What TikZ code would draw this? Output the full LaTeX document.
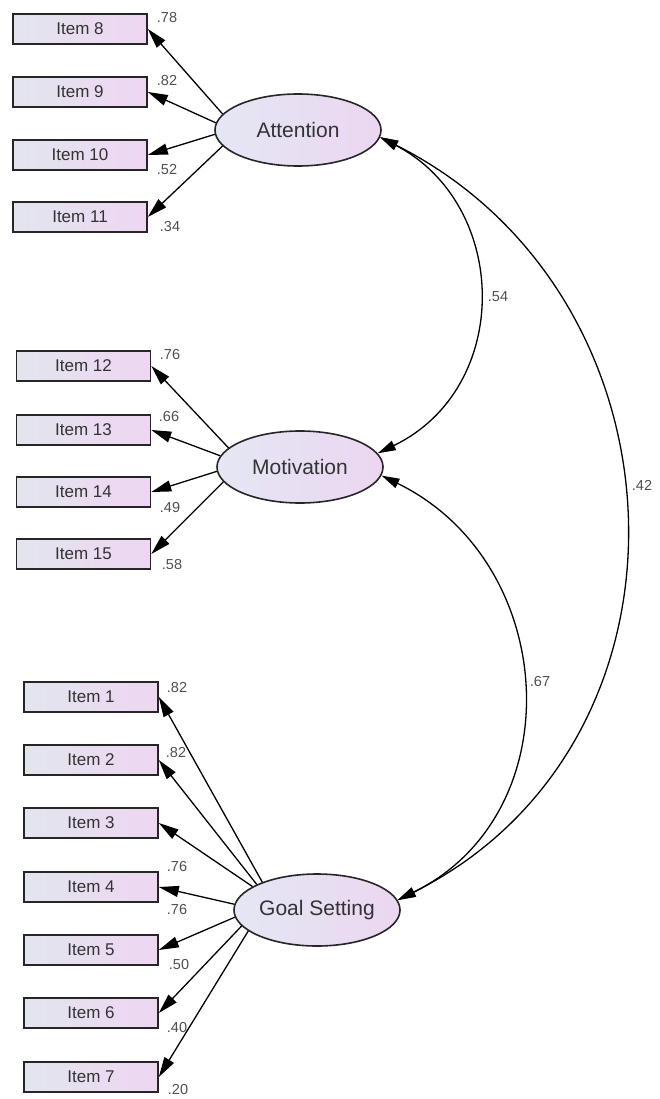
\documentclass[tikz,border=0pt]{standalone}
\usepackage{fontspec}
\setmainfont{Liberation Sans}
\usetikzlibrary{shapes.geometric,arrows.meta}
\definecolor{boxL}{HTML}{E2E5EE}
\definecolor{boxR}{HTML}{EED6F2}
\definecolor{ellL}{HTML}{E4E7F4}
\definecolor{ellR}{HTML}{ECD6F1}
\definecolor{txt}{HTML}{333333}
\definecolor{valtxt}{HTML}{505050}
\tikzset{
  itembox/.style={draw=black!85, line width=1.6pt, left color=boxL, right color=boxR,
    minimum width=134pt, minimum height=30pt, inner sep=0pt,
    font=\fontsize{17}{20}\selectfont, text=txt},
  latent/.style={ellipse, draw=black!85, line width=1.6pt, left color=ellL, right color=ellR,
    minimum width=166pt, minimum height=72pt, inner sep=0pt,
    font=\fontsize{21}{24}\selectfont, text=txt},
  load/.style={-{Triangle[length=20pt,width=11pt]}, line width=1.3pt},
  cov/.style={{Triangle[length=18pt,width=10pt]}-{Triangle[length=18pt,width=10pt]}, line width=1.3pt},
  val/.style={font=\fontsize{14.5}{16}\selectfont, text=valtxt, inner sep=0pt}
}
\begin{document}
\begin{tikzpicture}[x=1pt,y=-1pt]
\path[use as bounding box, fill=white] (0,0) rectangle (659,1099);

% latent variables
\node[latent] (att) at (298,130) {\makebox[0pt]{Attention}};
\node[latent] (mot) at (300,467) {\makebox[0pt]{Motivation}};
\node[latent] (gs)  at (317,910) {\makebox[0pt]{Goal Setting}};

% items: attention
\node[itembox] (i8)  at (80,29)  {Item 8};
\node[itembox] (i9)  at (80,92)  {Item 9};
\node[itembox] (i10) at (80,155) {Item 10};
\node[itembox] (i11) at (80,217) {Item 11};
% items: motivation
\node[itembox] (i12) at (83.5,366) {Item 12};
\node[itembox] (i13) at (83.5,430) {Item 13};
\node[itembox] (i14) at (83.5,492) {Item 14};
\node[itembox] (i15) at (83.5,554) {Item 15};
% items: goal setting
\node[itembox] (i1) at (91,697)  {Item 1};
\node[itembox] (i2) at (91,760)  {Item 2};
\node[itembox] (i3) at (91,823)  {Item 3};
\node[itembox] (i4) at (91,887)  {Item 4};
\node[itembox] (i5) at (91,950)  {Item 5};
\node[itembox] (i6) at (91,1013) {Item 6};
\node[itembox] (i7) at (91,1077) {Item 7};

% loadings
\draw[load] (att.168) -- (i8.east);
\draw[load] (att.175) -- (i9.east);
\draw[load] (att.183) -- (i10.east);
\draw[load] (att.192) -- (i11.east);

\draw[load] (mot.165) -- (i12.east);
\draw[load] (mot.172) -- (i13.east);
\draw[load] (mot.183.5) -- (i14.east);
\draw[load] (mot.191.5) -- (i15.east);

\draw[load] (gs.153) -- (i1.east);
\draw[load] (gs.157) -- (i2.east);
\draw[load] (gs.160) -- (i3.east);
\draw[load] (gs.176.5) -- (i4.east);
\draw[load] (gs.185) -- (i5.east);
\draw[load] (gs.192) -- (i6.east);
\draw[load] (gs.197) -- (i7.east);

% covariances
\draw[cov] (att.-5) .. controls (510,205) and (513,388) .. (mot.10);
\draw[cov] (att.-5) .. controls (694,295) and (712,743) .. (gs.7);
\draw[cov] (mot.-6) .. controls (559,562) and (574,813) .. (gs.7);

% values
\node[val] (v8)  at (167,18)  {.78};
\node[val] (v9)  at (167,81)  {.82};
\node[val] (v10) at (167,170) {.52};
\node[val] (v11) at (170,227) {.34};
\node[val] (v12) at (170,355) {.76};
\node[val] (v13) at (169,417) {.66};
\node[val] (v14) at (170,508) {.49};
\node[val] (v15) at (172,565) {.58};
\node[val] (v1) at (177,688)  {.82};
\node[val] (v2) at (176,752)  {.82};
\node[val] (v3) at (177,866)  {.76};
\node[val] (v4) at (177,909)  {.76};
\node[val] (v5) at (179,964)  {.50};
\node[val] (v6) at (177,1027) {.40};
\node[val] (v7) at (178,1089) {.20};
\node[val] (c54) at (498,297) {.54};
\node[val] (c42) at (642,485) {.42};
\node[val] (c67) at (540,682) {.67};
\end{tikzpicture}
\end{document}
